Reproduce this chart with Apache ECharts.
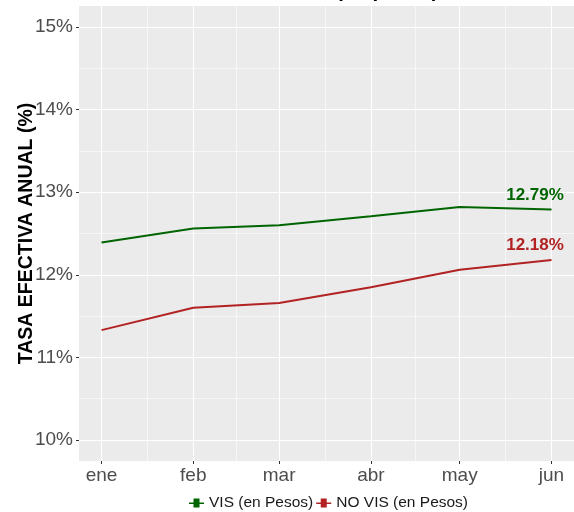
<!DOCTYPE html>
<html>
<head>
<meta charset="utf-8">
<script src="https://cdn.jsdelivr.net/npm/echarts@6/dist/echarts.min.js"></script>
<style>
html,body{margin:0;padding:0;background:#fff;}
#c{width:574px;height:512px;}
</style>
</head>
<body>
<div id="c"></div>
<script>
// ---- data ----
var months = ['ene', 'feb', 'mar', 'abr', 'may', 'jun'];
var dates = ['2020-01-01', '2020-02-01', '2020-03-01', '2020-04-01', '2020-05-01', '2020-06-01'];
var visValues = [12.39, 12.56, 12.60, 12.71, 12.82, 12.79];
var noVisValues = [11.33, 11.60, 11.66, 11.85, 12.06, 12.18];
var yTicks = [10, 11, 12, 13, 14, 15];
var yMinorTicks = [10.5, 11.5, 12.5, 13.5, 14.5];
var seriesNames = ['VIS (en Pesos)', 'NO VIS (en Pesos)'];
var titleFragment = '(en pesos)';

// ---- derived ----
var t0 = Date.UTC(2020, 0, 1);
function dayOf(s) {
  var p = s.split('-');
  return (Date.UTC(+p[0], +p[1] - 1, +p[2]) - t0) / 86400000;
}
var days = dates.map(dayOf);
var span = days[days.length - 1] - days[0];
var xMin = days[0] - span * 0.05;
var xMax = days[days.length - 1] + span * 0.05;
var xMinor = [];
for (var i = 0; i < days.length - 1; i++) xMinor.push((days[i] + days[i + 1]) / 2);
var labelByDay = {};
days.forEach(function (d, i) { labelByDay[d] = months[i]; });

var yMin = 9.746, yMax = 15.254;
var font = 'Liberation Sans, Arial, sans-serif';

function mk(vals, color) {
  return vals.map(function (v, i) {
    var item = { value: [days[i], v] };
    if (i === vals.length - 1) {
      item.label = {
        show: true, position: 'top', distance: 5, offset: [-16.5, -1],
        formatter: function (p) { return p.value[1].toFixed(2) + '%'; },
        color: color, fontWeight: 'bold', fontSize: 17, fontFamily: font
      };
    }
    return item;
  });
}

var chart = echarts.init(document.getElementById('c'), null, { renderer: 'canvas' });
chart.setOption({
  animation: false,
  backgroundColor: '#ffffff',
  graphic: [{
    type: 'text', left: 336, top: -19,
    style: { text: titleFragment, font: 'bold 20.5px ' + font, fill: '#000' }
  }],
  grid: {
    left: 79, right: 0, top: 6, bottom: 51,
    show: true, backgroundColor: '#EBEBEB', borderWidth: 0,
    containLabel: false, outerBoundsMode: 'none'
  },
  legend: {
    left: 189, top: 495, padding: 0,
    itemWidth: 15, itemHeight: 11, itemGap: 3,
    icon: 'path://M0,5 L15,5 L15,6.6 L0,6.6 Z M4.5,1 L10.5,1 L10.5,10 L4.5,10 Z',
    textStyle: { fontSize: 15.5, color: '#1a1a1a', fontFamily: font },
    data: seriesNames
  },
  xAxis: [{
    type: 'value', min: xMin, max: xMax, position: 'bottom',
    axisLine: { show: false, onZero: false },
    axisTick: { show: true, length: 3, customValues: days, lineStyle: { color: '#333', width: 1 } },
    axisLabel: {
      customValues: days, margin: 5, color: '#4D4D4D', fontSize: 19, fontFamily: font,
      formatter: function (v) { return labelByDay[v] || ''; }
    },
    splitLine: { show: true, lineStyle: { color: '#ffffff', width: 1.1 } }
  }, {
    type: 'value', min: xMin, max: xMax, position: 'top',
    axisLine: { show: false, onZero: false },
    axisTick: { show: false, customValues: xMinor },
    axisLabel: { show: false, customValues: xMinor },
    splitLine: { show: true, lineStyle: { color: '#ffffff', width: 0.55 } }
  }],
  yAxis: [{
    type: 'value', min: yMin, max: yMax, position: 'left',
    name: 'TASA EFECTIVA ANUAL (%)', nameLocation: 'middle', nameGap: 42, nameMoveOverlap: false,
    nameTextStyle: { fontSize: 19.5, fontWeight: 'bold', color: '#000', fontFamily: font },
    axisLine: { show: false, onZero: false },
    axisTick: { show: true, length: 3, customValues: yTicks, lineStyle: { color: '#333', width: 1 } },
    axisLabel: {
      customValues: yTicks, margin: 6, color: '#4D4D4D', fontSize: 19, fontFamily: font,
      formatter: function (v) { return v + '%'; }
    },
    splitLine: { show: true, lineStyle: { color: '#ffffff', width: 1.1 } }
  }, {
    type: 'value', min: yMin, max: yMax, position: 'right',
    axisLine: { show: false, onZero: false },
    axisTick: { show: false, customValues: yMinorTicks },
    axisLabel: { show: false, customValues: yMinorTicks },
    splitLine: { show: true, lineStyle: { color: '#ffffff', width: 0.55 } }
  }],
  series: [{
    name: seriesNames[0], type: 'line', xAxisIndex: 0, yAxisIndex: 0,
    data: mk(visValues, '#006400'), symbol: 'circle', symbolSize: 0, showSymbol: true,
    color: '#006400', lineStyle: { width: 2, color: '#006400' }, z: 3
  }, {
    name: seriesNames[1], type: 'line', xAxisIndex: 0, yAxisIndex: 0,
    data: mk(noVisValues, '#B22222'), symbol: 'circle', symbolSize: 0, showSymbol: true,
    color: '#B22222', lineStyle: { width: 2, color: '#B22222' }, z: 3
  }]
});
</script>
</body>
</html>
